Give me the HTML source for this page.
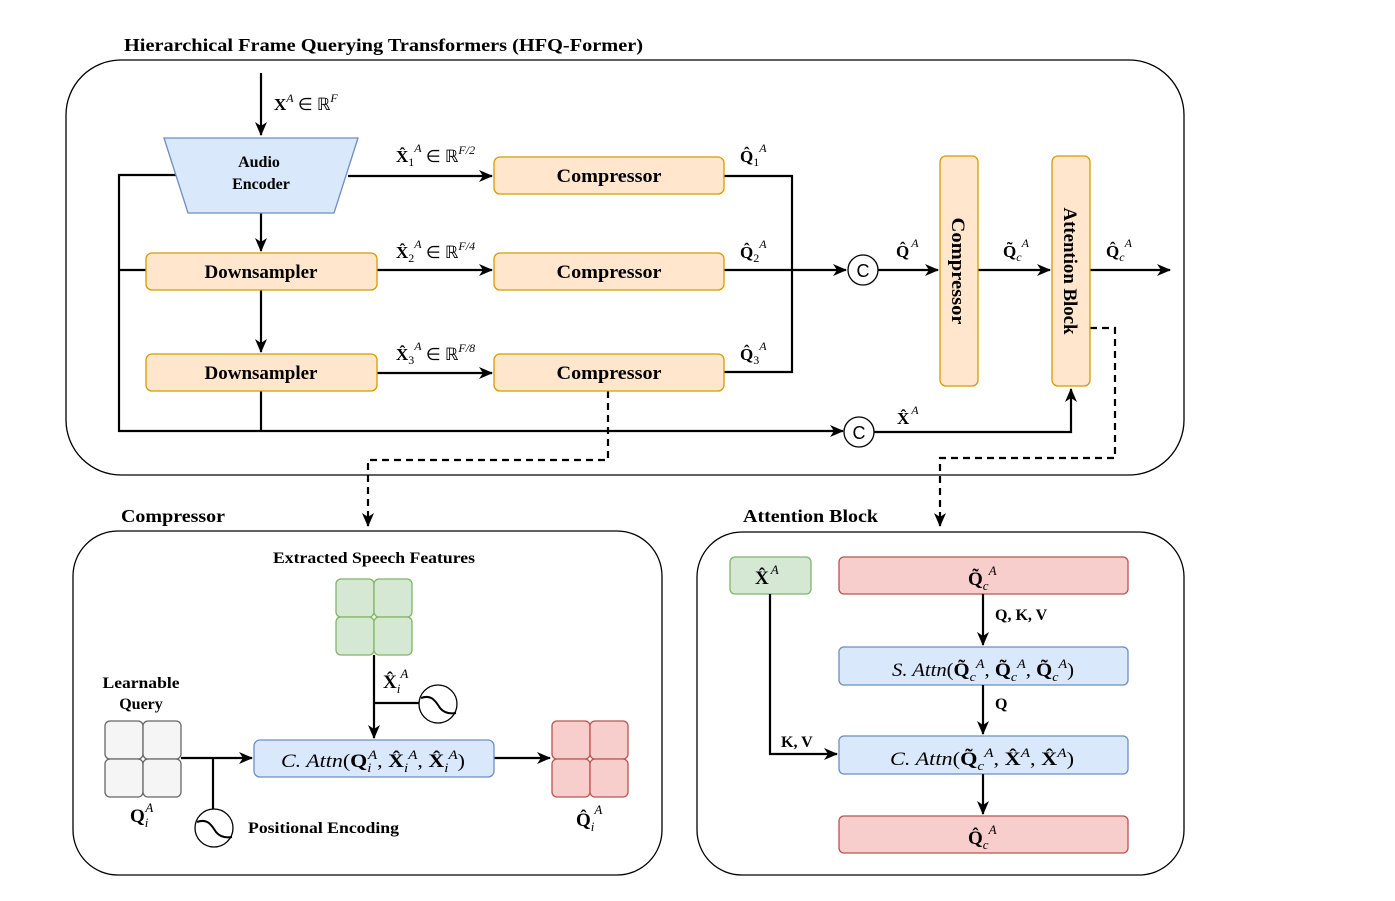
<!DOCTYPE html>
<html><head><meta charset="utf-8">
<style>
html,body{margin:0;padding:0;background:#fff;}
svg{display:block;}
text{font-family:"Liberation Serif",serif;fill:#000;}
.b{font-weight:bold;}
</style></head>
<body>
<svg width="1395" height="901" viewBox="0 0 1395 901" xmlns="http://www.w3.org/2000/svg">
<defs>
<marker id="ar2" markerWidth="14" markerHeight="14" refX="13" refY="7" orient="auto" markerUnits="userSpaceOnUse" viewBox="0 0 14 14">
<path d="M0,1 L14,7 L0,13 L4,7 z" fill="#000"/>
</marker>
</defs>
<g fill="none" stroke="#000" stroke-width="1.3">
<rect x="66" y="60" width="1118" height="415" rx="55"/>
<rect x="73" y="531" width="589" height="344" rx="45"/>
<rect x="697" y="532" width="487" height="343" rx="45"/>
</g>
<text x="124" y="51" class="b" font-size="18" textLength="519" lengthAdjust="spacingAndGlyphs">Hierarchical Frame Querying Transformers (HFQ-Former)</text>
<text x="121" y="522" class="b" font-size="18" textLength="104" lengthAdjust="spacingAndGlyphs">Compressor</text>
<text x="743" y="522" class="b" font-size="18" textLength="135" lengthAdjust="spacingAndGlyphs">Attention Block</text>

<g stroke="#000" stroke-width="2.2" fill="none">
<line x1="261" y1="73" x2="261" y2="135" marker-end="url(#ar2)"/>
<line x1="348" y1="176" x2="492" y2="176" marker-end="url(#ar2)"/>
<line x1="377" y1="270" x2="492" y2="270" marker-end="url(#ar2)"/>
<line x1="377" y1="373" x2="492" y2="373" marker-end="url(#ar2)"/>
<line x1="261" y1="213" x2="261" y2="251" marker-end="url(#ar2)"/>
<line x1="261" y1="290" x2="261" y2="352" marker-end="url(#ar2)"/>
<polyline points="176,175 119,175 119,431 843,431" marker-end="url(#ar2)"/>
<line x1="119" y1="270" x2="146" y2="270"/>
<line x1="261" y1="391" x2="261" y2="431"/>
<polyline points="724,176 792,176 792,372 724,372"/>
<line x1="724" y1="270" x2="846" y2="270" marker-end="url(#ar2)"/>
<line x1="878" y1="270" x2="938" y2="270" marker-end="url(#ar2)"/>
<line x1="978" y1="270" x2="1050" y2="270" marker-end="url(#ar2)"/>
<line x1="1090" y1="270" x2="1170" y2="270" marker-end="url(#ar2)"/>
<polyline points="874,432 1071,432 1071,389" marker-end="url(#ar2)"/>
</g>
<g stroke="#000" stroke-width="2.2" fill="none" stroke-dasharray="7,5">
<polyline points="608,391 608,460 368,460 368,526" marker-end="url(#ar2)"/>
<polyline points="1090,328 1115,328 1115,458 940,458 940,526" marker-end="url(#ar2)"/>
</g>

<polygon points="164,138 358,138 334,213 188,213" fill="#dae8fc" stroke="#6c8ebf" stroke-width="1.3"/>
<text x="259" y="167" text-anchor="middle" class="b" font-size="16">Audio</text>
<text x="261" y="189" text-anchor="middle" class="b" font-size="16">Encoder</text>

<g fill="#ffe6cc" stroke="#d79b00" stroke-width="1.3">
<rect x="494" y="157" width="230" height="37" rx="6"/>
<rect x="494" y="253" width="230" height="37" rx="6"/>
<rect x="494" y="354" width="230" height="37" rx="6"/>
<rect x="146" y="253" width="231" height="37" rx="6"/>
<rect x="146" y="354" width="231" height="37" rx="6"/>
<rect x="940" y="156" width="38" height="230" rx="6"/>
<rect x="1052" y="156" width="38" height="230" rx="6"/>
</g>
<g class="b" font-size="19" text-anchor="middle" lengthAdjust="spacingAndGlyphs">
<text x="609" y="182" textLength="105" lengthAdjust="spacingAndGlyphs">Compressor</text>
<text x="609" y="278" textLength="105" lengthAdjust="spacingAndGlyphs">Compressor</text>
<text x="609" y="379" textLength="105" lengthAdjust="spacingAndGlyphs">Compressor</text>
<text x="261" y="278" textLength="113" lengthAdjust="spacingAndGlyphs">Downsampler</text>
<text x="261" y="379" textLength="113" lengthAdjust="spacingAndGlyphs">Downsampler</text>
<text transform="translate(952,271) rotate(90)" textLength="107" lengthAdjust="spacingAndGlyphs">Compressor</text>
<text transform="translate(1064,271) rotate(90)" textLength="127" lengthAdjust="spacingAndGlyphs">Attention Block</text>
</g>
<g fill="#fff" stroke="#000" stroke-width="1.3">
<circle cx="863" cy="270" r="15"/>
<circle cx="859" cy="432" r="15"/>
</g>
<text x="863" y="277" text-anchor="middle" font-size="18" style="font-family:'Liberation Sans',sans-serif">C</text>
<text x="859" y="439" text-anchor="middle" font-size="18" style="font-family:'Liberation Sans',sans-serif">C</text>

<g font-size="17">
<text x="274" y="110"><tspan class="b">X</tspan><tspan dy="-8" font-size="12" font-style="italic">A</tspan><tspan dy="8"> ∈ ℝ</tspan><tspan dy="-8" font-size="12" font-style="italic">F</tspan></text>
<text x="396" y="162"><tspan class="b">X̂</tspan><tspan dy="4" font-size="12">1</tspan><tspan dy="-14" font-size="12" font-style="italic">A</tspan><tspan dy="10"> ∈ ℝ</tspan><tspan dy="-8" font-size="12" font-style="italic">F/2</tspan></text>
<text x="396" y="258"><tspan class="b">X̂</tspan><tspan dy="4" font-size="12">2</tspan><tspan dy="-14" font-size="12" font-style="italic">A</tspan><tspan dy="10"> ∈ ℝ</tspan><tspan dy="-8" font-size="12" font-style="italic">F/4</tspan></text>
<text x="396" y="360"><tspan class="b">X̂</tspan><tspan dy="4" font-size="12">3</tspan><tspan dy="-14" font-size="12" font-style="italic">A</tspan><tspan dy="10"> ∈ ℝ</tspan><tspan dy="-8" font-size="12" font-style="italic">F/8</tspan></text>
<text x="740" y="162"><tspan class="b">Q̂</tspan><tspan dy="4" font-size="12">1</tspan><tspan dy="-14" font-size="12" font-style="italic">A</tspan></text>
<text x="740" y="258"><tspan class="b">Q̂</tspan><tspan dy="4" font-size="12">2</tspan><tspan dy="-14" font-size="12" font-style="italic">A</tspan></text>
<text x="740" y="360"><tspan class="b">Q̂</tspan><tspan dy="4" font-size="12">3</tspan><tspan dy="-14" font-size="12" font-style="italic">A</tspan></text>
<text x="896" y="257"><tspan class="b">Q̂</tspan><tspan dy="-10" dx="2" font-size="12" font-style="italic">A</tspan></text>
<text x="1003" y="257"><tspan class="b">Q̃</tspan><tspan dy="4" font-size="12" font-style="italic">c</tspan><tspan dy="-14" font-size="12" font-style="italic">A</tspan></text>
<text x="1106" y="257"><tspan class="b">Q̂</tspan><tspan dy="4" font-size="12" font-style="italic">c</tspan><tspan dy="-14" font-size="12" font-style="italic">A</tspan></text>
<text x="897" y="424"><tspan class="b">X̂</tspan><tspan dy="-10" dx="2" font-size="12" font-style="italic">A</tspan></text>
</g>

<text x="374" y="563" text-anchor="middle" class="b" font-size="16" textLength="202" lengthAdjust="spacingAndGlyphs">Extracted Speech Features</text>
<g fill="#d5e8d4" stroke="#82b366" stroke-width="1.3">
<rect x="336" y="579" width="38" height="38" rx="5"/><rect x="374" y="579" width="38" height="38" rx="5"/>
<rect x="336" y="617" width="38" height="38" rx="5"/><rect x="374" y="617" width="38" height="38" rx="5"/>
</g>
<g fill="#f5f5f5" stroke="#666" stroke-width="1.3">
<rect x="105" y="721" width="38" height="38" rx="5"/><rect x="143" y="721" width="38" height="38" rx="5"/>
<rect x="105" y="759" width="38" height="38" rx="5"/><rect x="143" y="759" width="38" height="38" rx="5"/>
</g>
<g fill="#f8cecc" stroke="#b85450" stroke-width="1.3">
<rect x="552" y="721" width="38" height="38" rx="5"/><rect x="590" y="721" width="38" height="38" rx="5"/>
<rect x="552" y="759" width="38" height="38" rx="5"/><rect x="590" y="759" width="38" height="38" rx="5"/>
</g>
<g stroke="#000" stroke-width="2.2" fill="none">
<line x1="374" y1="655" x2="374" y2="738" marker-end="url(#ar2)"/>
<line x1="374" y1="703" x2="419" y2="703"/>
<line x1="181" y1="758" x2="252" y2="758" marker-end="url(#ar2)"/>
<line x1="213" y1="758" x2="213" y2="809"/>
<line x1="494" y1="758" x2="550" y2="758" marker-end="url(#ar2)"/>
</g>
<g fill="#fff" stroke="#000" stroke-width="1.3">
<circle cx="438" cy="704" r="19"/>
<circle cx="214" cy="828" r="19"/>
</g>
<g fill="none" stroke="#000" stroke-width="2">
<path d="M421,698 C432,694 436,702 440,708 C444,713 450,714 456,713"/>
<path d="M197,822 C208,818 212,826 216,832 C220,837 226,838 232,837"/>
</g>
<rect x="254" y="740" width="240" height="37" rx="6" fill="#dae8fc" stroke="#6c8ebf" stroke-width="1.3"/>
<g font-size="19">
<text x="281" y="767" textLength="184" lengthAdjust="spacingAndGlyphs"><tspan font-style="italic">C. Attn</tspan>(<tspan class="b">Q</tspan><tspan dy="5" font-size="13" font-style="italic">i</tspan><tspan dy="-13" dx="-3" font-size="13" font-style="italic">A</tspan><tspan dy="8">, </tspan><tspan class="b">X̂</tspan><tspan dy="5" font-size="13" font-style="italic">i</tspan><tspan dy="-13" font-size="13" font-style="italic">A</tspan><tspan dy="8">, </tspan><tspan class="b">X̂</tspan><tspan dy="5" font-size="13" font-style="italic">i</tspan><tspan dy="-13" font-size="13" font-style="italic">A</tspan><tspan dy="8">)</tspan></text>
<text x="383" y="688"><tspan class="b">X̂</tspan><tspan dy="5" font-size="13" font-style="italic">i</tspan><tspan dy="-15" font-size="13" font-style="italic">A</tspan></text>
<text x="130" y="822"><tspan class="b">Q</tspan><tspan dy="5" font-size="13" font-style="italic">i</tspan><tspan dy="-15" dx="-3" font-size="13" font-style="italic">A</tspan></text>
<text x="576" y="826"><tspan class="b">Q̂</tspan><tspan dy="5" font-size="13" font-style="italic">i</tspan><tspan dy="-17" font-size="13" font-style="italic">A</tspan></text>
</g>
<text x="141" y="688" text-anchor="middle" class="b" font-size="16" textLength="77" lengthAdjust="spacingAndGlyphs">Learnable</text>
<text x="141" y="709" text-anchor="middle" class="b" font-size="16">Query</text>
<text x="248" y="833" class="b" font-size="16" textLength="151" lengthAdjust="spacingAndGlyphs">Positional Encoding</text>

<rect x="730" y="557" width="81" height="37" rx="5" fill="#d5e8d4" stroke="#82b366" stroke-width="1.3"/>
<g fill="#f8cecc" stroke="#b85450" stroke-width="1.3">
<rect x="839" y="557" width="289" height="37" rx="5"/>
<rect x="839" y="816" width="289" height="37" rx="5"/>
</g>
<g fill="#dae8fc" stroke="#6c8ebf" stroke-width="1.3">
<rect x="839" y="647" width="289" height="38" rx="5"/>
<rect x="839" y="736" width="289" height="38" rx="5"/>
</g>
<g stroke="#000" stroke-width="2.2" fill="none">
<line x1="983" y1="594" x2="983" y2="645" marker-end="url(#ar2)"/>
<line x1="983" y1="685" x2="983" y2="734" marker-end="url(#ar2)"/>
<line x1="983" y1="774" x2="983" y2="814" marker-end="url(#ar2)"/>
<polyline points="770,594 770,754 837,754" marker-end="url(#ar2)"/>
</g>
<g font-size="19">
<text x="755" y="584"><tspan class="b">X̂</tspan><tspan dy="-10" dx="2" font-size="13" font-style="italic">A</tspan></text>
<text x="968" y="585"><tspan class="b">Q̃</tspan><tspan dy="5" font-size="13" font-style="italic">c</tspan><tspan dy="-15" font-size="13" font-style="italic">A</tspan></text>
<text x="968" y="844"><tspan class="b">Q̂</tspan><tspan dy="5" font-size="13" font-style="italic">c</tspan><tspan dy="-15" font-size="13" font-style="italic">A</tspan></text>
<text x="892" y="676" textLength="182" lengthAdjust="spacingAndGlyphs"><tspan font-style="italic">S. Attn</tspan>(<tspan class="b">Q̃</tspan><tspan dy="5" font-size="13" font-style="italic">c</tspan><tspan dy="-13" font-size="13" font-style="italic">A</tspan><tspan dy="8">, </tspan><tspan class="b">Q̃</tspan><tspan dy="5" font-size="13" font-style="italic">c</tspan><tspan dy="-13" font-size="13" font-style="italic">A</tspan><tspan dy="8">, </tspan><tspan class="b">Q̃</tspan><tspan dy="5" font-size="13" font-style="italic">c</tspan><tspan dy="-13" font-size="13" font-style="italic">A</tspan><tspan dy="8">)</tspan></text>
<text x="890" y="765" textLength="184" lengthAdjust="spacingAndGlyphs"><tspan font-style="italic">C. Attn</tspan>(<tspan class="b">Q̃</tspan><tspan dy="5" font-size="13" font-style="italic">c</tspan><tspan dy="-13" font-size="13" font-style="italic">A</tspan><tspan dy="8">, </tspan><tspan class="b">X̂</tspan><tspan dy="-8" font-size="13" font-style="italic">A</tspan><tspan dy="8">, </tspan><tspan class="b">X̂</tspan><tspan dy="-8" font-size="13" font-style="italic">A</tspan><tspan dy="8">)</tspan></text>
</g>
<text x="995" y="620" class="b" font-size="16">Q, K, V</text>
<text x="995" y="709" class="b" font-size="16">Q</text>
<text x="781" y="747" class="b" font-size="16">K, V</text>
</svg>
</body></html>
